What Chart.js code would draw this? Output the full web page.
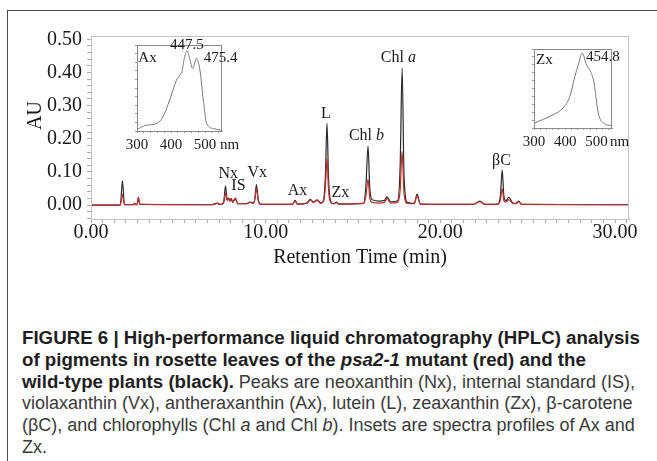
<!DOCTYPE html>
<html><head><meta charset="utf-8">
<script src="https://cdn.jsdelivr.net/npm/chart.js@4.4.0/dist/chart.umd.min.js"></script>
<style>
html,body{margin:0;padding:0;background:#fff;}
body{width:657px;height:461px;position:relative;overflow:hidden;}
#frame{position:absolute;left:7px;top:10px;width:700px;height:500px;border-left:1.5px solid #4a4a4a;border-top:1.5px solid #4a4a4a;}
canvas{position:absolute;}
#main{left:0;top:0;}
#axInset{left:100px;top:30px;}
#zxInset{left:500px;top:35px;}
.ln{position:absolute;left:22px;white-space:nowrap;font-family:"Liberation Sans",Arial,sans-serif;font-size:18px;line-height:22px;color:#3a3a3a;}
.b{font-weight:bold;color:#1e1e1e;font-size:18.7px;}
</style></head>
<body>
<div id="frame"></div>
<canvas id="main" width="657" height="290"></canvas>
<canvas id="axInset" width="150" height="125"></canvas>
<canvas id="zxInset" width="150" height="120"></canvas>
<div class="ln b" style="top:327px">FIGURE 6 | High-performance liquid chromatography (HPLC) analysis</div>
<div class="ln b" style="top:349px">of pigments in rosette leaves of the <i>psa2-1</i> mutant (red) and the</div>
<div class="ln" style="top:371px"><b style="color:#1e1e1e;font-size:18.7px">wild-type plants (black).</b> Peaks are neoxanthin (Nx), internal standard (IS),</div>
<div class="ln" style="top:392px">violaxanthin (Vx), antheraxanthin (Ax), lutein (L), zeaxanthin (Zx), β-carotene</div>
<div class="ln" style="top:414px">(βC), and chlorophylls (Chl <i>a</i> and Chl <i>b</i>). Insets are spectra profiles of Ax and</div>
<div class="ln" style="top:436px">Zx.</div>
<script>
// ---- Chromatogram data (retention time in min, absorbance in AU) ----
const retentionTimes = [
  0.00, 1.68, 1.80, 1.92, 2.40, 2.50, 2.58, 2.63, 2.71, 2.80,
  6.90, 7.25, 7.35, 7.45, 7.60, 7.70, 7.80, 7.88, 7.95, 8.02, 8.12, 8.26, 8.40,
  8.90, 9.10, 9.30, 9.38, 9.47, 9.58, 9.70,
  10.50, 11.55, 11.68, 11.82, 12.35, 12.56, 12.74, 12.94, 13.15, 13.30, 13.42, 13.51, 13.60, 13.72, 13.90, 14.05, 14.20,
  15.60, 15.74, 15.86, 15.96, 16.10, 16.50, 16.80, 16.95, 17.15, 17.55, 17.70, 17.81, 17.92, 18.10, 18.50, 18.67, 18.85,
  21.90, 22.26, 22.55, 23.30, 23.44, 23.54, 23.64, 23.76, 23.92, 24.15, 24.32, 24.49, 24.65, 30.80
];
const wildTypeAU = [
  0.000, 0.000, 0.073, 0.001, 0.001, 0.005, 0.001, 0.001, 0.019, 0.002,
  0.001, 0.006, 0.002, 0.002, 0.010, 0.058, 0.016, 0.021, 0.013, 0.020, 0.009, 0.021, 0.004,
  0.004, 0.009, 0.006, 0.020, 0.062, 0.015, 0.003,
  0.002, 0.003, 0.014, 0.003, 0.006, 0.017, 0.009, 0.016, 0.006, 0.012, 0.090, 0.247, 0.080, 0.012, 0.004, 0.009, 0.003,
  0.005, 0.060, 0.178, 0.050, 0.016, 0.012, 0.014, 0.025, 0.010, 0.013, 0.120, 0.413, 0.090, 0.008, 0.005, 0.033, 0.003,
  0.002, 0.012, 0.002, 0.003, 0.030, 0.106, 0.025, 0.013, 0.023, 0.006, 0.005, 0.012, 0.002, 0.001
];
const mutantAU = [
  0.000, 0.000, 0.032, 0.001, 0.001, 0.005, 0.001, 0.002, 0.024, 0.003,
  0.001, 0.005, 0.002, 0.002, 0.008, 0.036, 0.014, 0.019, 0.011, 0.018, 0.008, 0.020, 0.004,
  0.004, 0.008, 0.006, 0.017, 0.050, 0.012, 0.003,
  0.002, 0.003, 0.012, 0.003, 0.005, 0.015, 0.008, 0.014, 0.006, 0.010, 0.055, 0.141, 0.045, 0.008, 0.004, 0.007, 0.003,
  0.005, 0.028, 0.078, 0.022, 0.008, 0.006, 0.008, 0.020, 0.006, 0.008, 0.045, 0.161, 0.035, 0.005, 0.004, 0.028, 0.003,
  0.002, 0.010, 0.002, 0.003, 0.015, 0.050, 0.013, 0.009, 0.016, 0.005, 0.004, 0.010, 0.002, 0.001
];
const yTickLabels = ['0.00', '0.10', '0.20', '0.30', '0.40', '0.50'];
const xTickLabels = ['0.00', '10.00', '20.00', '30.00'];

// peak annotations (label, time, AU level of label centre)
const peakNames  = ['Nx', 'IS', 'Vx', 'Ax', 'L', 'Zx', 'Chl |b', 'Chl |a', 'βC'];
const peakTimes  = [7.86, 8.44, 9.52, 11.82, 13.45, 14.28, 15.77, 17.60, 23.50];
const peakLevels = [0.0935, 0.057, 0.0966, 0.042, 0.2746, 0.0377, 0.208, 0.445, 0.133];

// ---- Inset spectra (wavelength nm, relative absorbance) ----
const axWavelength = [300, 327, 357, 376, 396, 416, 426, 433, 438, 447.5, 455, 463.5, 475.4, 485, 495, 505, 525, 550];
const axAbsorbance = [0.016, 0.067, 0.086, 0.163, 0.36, 0.59, 0.65, 0.70, 0.825, 0.933, 0.845, 0.728, 0.845, 0.71, 0.36, 0.086, 0.028, 0.008];
const zxWavelength = [300, 330, 361, 393, 415, 431, 442, 454.8, 468, 481, 492, 506, 522, 550];
const zxAbsorbance = [0.06, 0.11, 0.168, 0.253, 0.40, 0.653, 0.80, 0.95, 0.80, 0.717, 0.58, 0.19, 0.063, 0.03];
const insetTickLabels = ['300', '400', '500'];

const SERIF = '"Liberation Serif", "Times New Roman", serif';
const TXT = '#1a1a1a';
const AXIS = '#c4c4c4';

const toPts = (xs, ys) => xs.map((x, i) => ({x: x, y: ys[i]}));

const boxPlugin = {
  id: 'box',
  afterDraw(chart, args, opts) {
    const {ctx, chartArea: a} = chart;
    ctx.save();
    ctx.strokeStyle = opts.color || AXIS;
    ctx.lineWidth = 1;
    ctx.strokeRect(Math.round(a.left) + 0.5, Math.round(a.top) + 0.5, Math.round(a.width) - 1, Math.round(a.height));
    ctx.restore();
  }
};

const peakLabelPlugin = {
  id: 'peakLabels',
  afterDraw(chart) {
    const {ctx, scales: {x, y}} = chart;
    ctx.save();
    ctx.fillStyle = TXT;
    ctx.textBaseline = 'middle';
    const normal = '16px ' + SERIF, ital = 'italic 16px ' + SERIF;
    peakNames.forEach((name, i) => {
      const px = x.getPixelForValue(peakTimes[i]);
      const py = y.getPixelForValue(peakLevels[i]);
      const parts = name.split('|');
      ctx.font = normal;
      const w1 = ctx.measureText(parts[0]).width;
      let w2 = 0;
      if (parts[1]) { ctx.font = ital; w2 = ctx.measureText(parts[1]).width; }
      const start = px - (w1 + w2) / 2;
      ctx.textAlign = 'left';
      ctx.font = normal;
      ctx.fillText(parts[0], start, py);
      if (parts[1]) { ctx.font = ital; ctx.fillText(parts[1], start + w1, py); }
    });
    // y axis title
    ctx.font = '20px ' + SERIF;
    ctx.translate(36, y.getPixelForValue(0.27));
    ctx.rotate(-Math.PI / 2);
    ctx.textAlign = 'center';
    ctx.fillText('AU', 0, 0);
    ctx.restore();
  }
};

const yMajor = yTickLabels.map(Number);
const xMajor = xTickLabels.map(Number);

new Chart(document.getElementById('main'), {
  type: 'line',
  data: {
    datasets: [
      {label: 'psa2-1', data: toPts(retentionTimes, mutantAU), borderColor: '#b8312f', borderWidth: 1.2, pointRadius: 0, cubicInterpolationMode: 'monotone', order: 0},
      {label: 'wild type', data: toPts(retentionTimes, wildTypeAU), borderColor: '#2b2b2b', borderWidth: 1.2, pointRadius: 0, cubicInterpolationMode: 'monotone', order: 1}
    ]
  },
  options: {
    responsive: false, animation: false, devicePixelRatio: 1,
    layout: {padding: {left: 0, right: 28, top: 36, bottom: 0}},
    plugins: {legend: {display: false}, tooltip: {enabled: false}, box: {color: AXIS}},
    scales: {
      x: {
        type: 'linear', min: 0, max: 30.8,
        afterFit(s) { s.height = 71; },
        afterBuildTicks(s) {
          const t = [];
          for (let k = 0; k <= 46; k++) t.push({value: k * 10 / 15});
          s.ticks = t;
        },
        ticks: {
          autoSkip: false, maxRotation: 0, padding: 0, color: TXT,
          font: {family: SERIF, size: 20, lineHeight: 1},
          callback(v) { const i = xMajor.findIndex(m => Math.abs(m - v) < 1e-6); return i >= 0 ? xTickLabels[i] : ''; }
        },
        grid: {display: true, drawOnChartArea: false, drawTicks: true, tickLength: 4, color: '#aaa'},
        border: {color: AXIS},
        title: {display: true, text: 'Retention Time (min)', color: TXT, font: {family: SERIF, size: 20, lineHeight: 1.2}, padding: {top: 0, bottom: 20}}
      },
      y: {
        type: 'linear', min: -0.042, max: 0.51,
        afterFit(s) { s.width = 91; },
        afterBuildTicks(s) {
          const t = [];
          for (let k = -2; k <= 25; k++) t.push({value: k * 0.02});
          s.ticks = t;
        },
        ticks: {
          autoSkip: false, padding: 5, color: TXT,
          font: {family: SERIF, size: 20},
          callback(v) { const i = yMajor.findIndex(m => Math.abs(m - v) < 1e-6); return i >= 0 ? yTickLabels[i] : ''; }
        },
        grid: {display: true, drawOnChartArea: false, drawTicks: true, tickLength: 4, color: '#aaa'},
        border: {color: AXIS}
      }
    }
  },
  plugins: [boxPlugin, peakLabelPlugin]
});

function makeInset(id, wl, ab, pad, xh, notes) {
  const notePlugin = {
    id: 'notes',
    afterDraw(chart) {
      const {ctx, scales: {x, y}} = chart;
      ctx.save();
      ctx.fillStyle = TXT;
      ctx.font = '15px ' + SERIF;
      ctx.textBaseline = 'middle';
      notes.forEach(n => {
        ctx.textAlign = n[3] || 'center';
        ctx.fillText(n[0], x.getPixelForValue(n[1]), y.getPixelForValue(n[2]));
      });
      // unit label after the axis
      ctx.textAlign = 'left';
      ctx.fillText('nm', x.right - 2, chart.chartArea.bottom + 14);
      ctx.restore();
    }
  };
  const insetMajor = insetTickLabels.map(Number);
  new Chart(document.getElementById(id), {
    type: 'line',
    data: {datasets: [{data: toPts(wl, ab), borderColor: '#7a7a7a', borderWidth: 1, pointRadius: 0, cubicInterpolationMode: 'monotone'}]},
    options: {
      responsive: false, animation: false, devicePixelRatio: 1,
      layout: {padding: pad},
      plugins: {legend: {display: false}, tooltip: {enabled: false}, box: {color: '#8a8a8a'}},
      scales: {
        x: {
          type: 'linear', min: 300, max: 550,
          afterFit(s) { s.height = xh; },
          afterBuildTicks(s) { const t = []; for (let k = 0; k <= 12; k++) t.push({value: 300 + k * 20}); s.ticks = t; },
          ticks: {autoSkip: false, maxRotation: 0, padding: 5, color: TXT, font: {family: SERIF, size: 15, lineHeight: 1},
            callback(v) { const i = insetMajor.findIndex(m => Math.abs(m - v) < 1e-6); return i >= 0 ? insetTickLabels[i] : ''; }},
          grid: {display: true, drawOnChartArea: false, tickLength: 2, color: '#999'},
          border: {color: '#8a8a8a'}
        },
        y: {
          type: 'linear', min: 0, max: 1,
          afterFit(s) { s.width = 0; },
          afterBuildTicks(s) { const t = []; for (let k = 0; k <= 10; k++) t.push({value: k / 10}); s.ticks = t; },
          ticks: {display: false},
          grid: {display: true, drawOnChartArea: false, tickLength: 2, color: '#999'},
          border: {color: '#8a8a8a'}
        }
      }
    },
    plugins: [boxPlugin, notePlugin]
  });
}

makeInset('axInset', axWavelength, axAbsorbance, {left: 37, top: 15, right: 28, bottom: 0}, 24,
  [['Ax', 331, 0.85], ['447.5', 446.6, 1.0], ['475.4', 546, 0.85]]);
makeInset('zxInset', zxWavelength, zxAbsorbance, {left: 34, top: 14, right: 38, bottom: 0}, 27,
  [['Zx', 333, 0.865], ['454.8', 521, 0.896]]);
</script>
</body></html>
